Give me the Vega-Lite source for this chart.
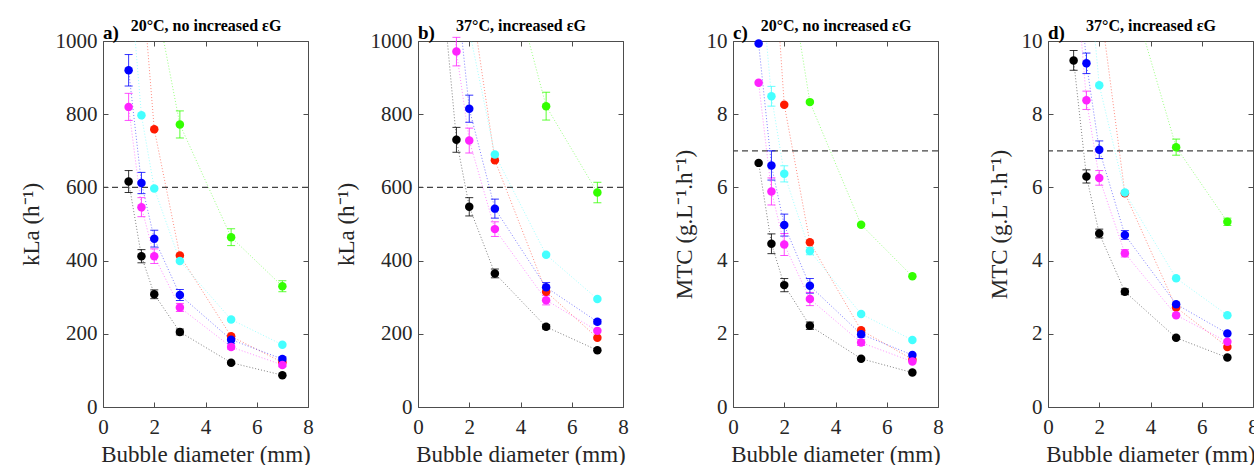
{
  "$schema": "https://vega.github.io/schema/vega-lite/v6.json",
  "background": "white",
  "padding": {"left": 20, "top": 17, "right": 0, "bottom": 0},
  "autosize": {"type": "pad"},
  "bounds": "flush",
  "spacing": 110,
  "config": {
    "font": "Liberation Serif",
    "view": {"stroke": null},
    "range": {"category": ["#000000", "#0000ff", "#44ffff", "#33ff00", "#ff22ff", "#ff1a00"]},
    "axis": {
      "grid": false,
      "labelFont": "Liberation Serif",
      "labelFontSize": 21,
      "labelColor": "#262626",
      "titleFont": "Liberation Serif",
      "titleFontSize": 23,
      "titleFontWeight": "normal",
      "titleColor": "#262626",
      "domainColor": "#4d4d4d",
      "tickColor": "#4d4d4d",
      "tickSize": -5,
      "labelFlush": false,
      "labelOverlap": false
    },
    "title": {"font": "Liberation Serif", "fontSize": 19, "fontWeight": "bold", "color": "#000000", "anchor": "start", "frame": "group", "baseline": "alphabetic", "offset": -25}
  },
  "datasets": {
    "refs": [
      {"p": "a", "ref": 600}, {"p": "b", "ref": 600}, {"p": "c", "ref": 7}, {"p": "d", "ref": 7}
    ],
    "pts": [
      {"p": "a", "s": "red", "d": 1.5, "v": 1190, "e": 0},
      {"p": "a", "s": "red", "d": 2, "v": 759, "e": 0},
      {"p": "a", "s": "red", "d": 3, "v": 414, "e": 0},
      {"p": "a", "s": "red", "d": 5, "v": 193, "e": 0},
      {"p": "a", "s": "red", "d": 7, "v": 122, "e": 0},
      {"p": "a", "s": "green", "d": 2, "v": 1134, "e": 0},
      {"p": "a", "s": "green", "d": 3, "v": 772, "e": 37},
      {"p": "a", "s": "green", "d": 5, "v": 464, "e": 23},
      {"p": "a", "s": "green", "d": 7, "v": 330, "e": 15},
      {"p": "a", "s": "cyan", "d": 1, "v": 1220, "e": 0},
      {"p": "a", "s": "cyan", "d": 1.5, "v": 797, "e": 0},
      {"p": "a", "s": "cyan", "d": 2, "v": 597, "e": 0},
      {"p": "a", "s": "cyan", "d": 3, "v": 399, "e": 0},
      {"p": "a", "s": "cyan", "d": 5, "v": 239, "e": 0},
      {"p": "a", "s": "cyan", "d": 7, "v": 170, "e": 0},
      {"p": "a", "s": "black", "d": 1, "v": 616, "e": 30},
      {"p": "a", "s": "black", "d": 1.5, "v": 412, "e": 18},
      {"p": "a", "s": "black", "d": 2, "v": 308, "e": 12},
      {"p": "a", "s": "black", "d": 3, "v": 205, "e": 8},
      {"p": "a", "s": "black", "d": 5, "v": 121, "e": 0},
      {"p": "a", "s": "black", "d": 7, "v": 87, "e": 0},
      {"p": "a", "s": "blue", "d": 1, "v": 920, "e": 43},
      {"p": "a", "s": "blue", "d": 1.5, "v": 612, "e": 29},
      {"p": "a", "s": "blue", "d": 2, "v": 460, "e": 23},
      {"p": "a", "s": "blue", "d": 3, "v": 306, "e": 15},
      {"p": "a", "s": "blue", "d": 5, "v": 184, "e": 10},
      {"p": "a", "s": "blue", "d": 7, "v": 131, "e": 6},
      {"p": "a", "s": "magenta", "d": 1, "v": 820, "e": 37},
      {"p": "a", "s": "magenta", "d": 1.5, "v": 546, "e": 26},
      {"p": "a", "s": "magenta", "d": 2, "v": 412, "e": 20},
      {"p": "a", "s": "magenta", "d": 3, "v": 272, "e": 11},
      {"p": "a", "s": "magenta", "d": 5, "v": 164, "e": 6},
      {"p": "a", "s": "magenta", "d": 7, "v": 115, "e": 5},

      {"p": "b", "s": "red", "d": 2, "v": 1150, "e": 0},
      {"p": "b", "s": "red", "d": 3, "v": 674, "e": 0},
      {"p": "b", "s": "red", "d": 5, "v": 315, "e": 0},
      {"p": "b", "s": "red", "d": 7, "v": 189, "e": 0},
      {"p": "b", "s": "green", "d": 3, "v": 1350, "e": 0},
      {"p": "b", "s": "green", "d": 5, "v": 822, "e": 38},
      {"p": "b", "s": "green", "d": 7, "v": 586, "e": 28},
      {"p": "b", "s": "cyan", "d": 2, "v": 1030, "e": 0},
      {"p": "b", "s": "cyan", "d": 3, "v": 690, "e": 0},
      {"p": "b", "s": "cyan", "d": 5, "v": 416, "e": 0},
      {"p": "b", "s": "cyan", "d": 7, "v": 295, "e": 0},
      {"p": "b", "s": "black", "d": 1, "v": 1110, "e": 0},
      {"p": "b", "s": "black", "d": 1.5, "v": 730, "e": 34},
      {"p": "b", "s": "black", "d": 2, "v": 547, "e": 25},
      {"p": "b", "s": "black", "d": 3, "v": 365, "e": 12},
      {"p": "b", "s": "black", "d": 5, "v": 219, "e": 6},
      {"p": "b", "s": "black", "d": 7, "v": 155, "e": 0},
      {"p": "b", "s": "blue", "d": 1.5, "v": 1150, "e": 0},
      {"p": "b", "s": "blue", "d": 2, "v": 815, "e": 37},
      {"p": "b", "s": "blue", "d": 3, "v": 542, "e": 26},
      {"p": "b", "s": "blue", "d": 5, "v": 327, "e": 13},
      {"p": "b", "s": "blue", "d": 7, "v": 233, "e": 6},
      {"p": "b", "s": "magenta", "d": 1, "v": 1350, "e": 0},
      {"p": "b", "s": "magenta", "d": 1.5, "v": 971, "e": 39},
      {"p": "b", "s": "magenta", "d": 2, "v": 728, "e": 34},
      {"p": "b", "s": "magenta", "d": 3, "v": 486, "e": 20},
      {"p": "b", "s": "magenta", "d": 5, "v": 292, "e": 13},
      {"p": "b", "s": "magenta", "d": 7, "v": 208, "e": 0},

      {"p": "c", "s": "red", "d": 1.5, "v": 13.4, "e": 0},
      {"p": "c", "s": "red", "d": 2, "v": 8.26, "e": 0},
      {"p": "c", "s": "red", "d": 3, "v": 4.5, "e": 0},
      {"p": "c", "s": "red", "d": 5, "v": 2.1, "e": 0},
      {"p": "c", "s": "red", "d": 7, "v": 1.3, "e": 0},
      {"p": "c", "s": "green", "d": 2, "v": 12.7, "e": 0},
      {"p": "c", "s": "green", "d": 3, "v": 8.33, "e": 0},
      {"p": "c", "s": "green", "d": 5, "v": 4.98, "e": 0},
      {"p": "c", "s": "green", "d": 7, "v": 3.57, "e": 0},
      {"p": "c", "s": "cyan", "d": 1, "v": 12.4, "e": 0},
      {"p": "c", "s": "cyan", "d": 1.5, "v": 8.49, "e": 0.27},
      {"p": "c", "s": "cyan", "d": 2, "v": 6.37, "e": 0.22},
      {"p": "c", "s": "cyan", "d": 3, "v": 4.26, "e": 0.1},
      {"p": "c", "s": "cyan", "d": 5, "v": 2.54, "e": 0},
      {"p": "c", "s": "cyan", "d": 7, "v": 1.83, "e": 0},
      {"p": "c", "s": "black", "d": 1, "v": 6.67, "e": 0},
      {"p": "c", "s": "black", "d": 1.5, "v": 4.46, "e": 0.27},
      {"p": "c", "s": "black", "d": 2, "v": 3.33, "e": 0.18},
      {"p": "c", "s": "black", "d": 3, "v": 2.22, "e": 0.1},
      {"p": "c", "s": "black", "d": 5, "v": 1.32, "e": 0},
      {"p": "c", "s": "black", "d": 7, "v": 0.94, "e": 0},
      {"p": "c", "s": "blue", "d": 1, "v": 9.93, "e": 0},
      {"p": "c", "s": "blue", "d": 1.5, "v": 6.6, "e": 0.4},
      {"p": "c", "s": "blue", "d": 2, "v": 4.97, "e": 0.3},
      {"p": "c", "s": "blue", "d": 3, "v": 3.31, "e": 0.2},
      {"p": "c", "s": "blue", "d": 5, "v": 1.99, "e": 0.08},
      {"p": "c", "s": "blue", "d": 7, "v": 1.42, "e": 0},
      {"p": "c", "s": "magenta", "d": 1, "v": 8.86, "e": 0},
      {"p": "c", "s": "magenta", "d": 1.5, "v": 5.89, "e": 0.37},
      {"p": "c", "s": "magenta", "d": 2, "v": 4.44, "e": 0.3},
      {"p": "c", "s": "magenta", "d": 3, "v": 2.95, "e": 0.18},
      {"p": "c", "s": "magenta", "d": 5, "v": 1.76, "e": 0.08},
      {"p": "c", "s": "magenta", "d": 7, "v": 1.24, "e": 0},

      {"p": "d", "s": "red", "d": 2, "v": 11.2, "e": 0},
      {"p": "d", "s": "red", "d": 3, "v": 5.84, "e": 0},
      {"p": "d", "s": "red", "d": 5, "v": 2.72, "e": 0},
      {"p": "d", "s": "red", "d": 7, "v": 1.64, "e": 0},
      {"p": "d", "s": "green", "d": 3, "v": 11.9, "e": 0},
      {"p": "d", "s": "green", "d": 5, "v": 7.1, "e": 0.22},
      {"p": "d", "s": "green", "d": 7, "v": 5.06, "e": 0.1},
      {"p": "d", "s": "cyan", "d": 1.5, "v": 12.6, "e": 0},
      {"p": "d", "s": "cyan", "d": 2, "v": 8.79, "e": 0},
      {"p": "d", "s": "cyan", "d": 3, "v": 5.86, "e": 0},
      {"p": "d", "s": "cyan", "d": 5, "v": 3.52, "e": 0},
      {"p": "d", "s": "cyan", "d": 7, "v": 2.51, "e": 0},
      {"p": "d", "s": "black", "d": 1, "v": 9.47, "e": 0.27},
      {"p": "d", "s": "black", "d": 1.5, "v": 6.3, "e": 0.18},
      {"p": "d", "s": "black", "d": 2, "v": 4.74, "e": 0.12},
      {"p": "d", "s": "black", "d": 3, "v": 3.15, "e": 0.08},
      {"p": "d", "s": "black", "d": 5, "v": 1.89, "e": 0},
      {"p": "d", "s": "black", "d": 7, "v": 1.35, "e": 0},
      {"p": "d", "s": "blue", "d": 1, "v": 13.7, "e": 0},
      {"p": "d", "s": "blue", "d": 1.5, "v": 9.39, "e": 0.28},
      {"p": "d", "s": "blue", "d": 2, "v": 7.03, "e": 0.24},
      {"p": "d", "s": "blue", "d": 3, "v": 4.7, "e": 0.12},
      {"p": "d", "s": "blue", "d": 5, "v": 2.81, "e": 0},
      {"p": "d", "s": "blue", "d": 7, "v": 2.01, "e": 0},
      {"p": "d", "s": "magenta", "d": 1, "v": 12.6, "e": 0},
      {"p": "d", "s": "magenta", "d": 1.5, "v": 8.38, "e": 0.25},
      {"p": "d", "s": "magenta", "d": 2, "v": 6.26, "e": 0.2},
      {"p": "d", "s": "magenta", "d": 3, "v": 4.2, "e": 0.1},
      {"p": "d", "s": "magenta", "d": 5, "v": 2.51, "e": 0},
      {"p": "d", "s": "magenta", "d": 7, "v": 1.78, "e": 0}
    ]
  },
  "hconcat": [
    {
      "width": 205, "height": 366,
      "title": {"text": "a)"},
      "data": {"name": "pts"},
      "transform": [{"filter": "datum.p === 'a'"}],
      "resolve": {"axis": {"x": "independent", "y": "independent"}},
      "layer": [
        {"data": {"name": "refs"}, "transform": [{"filter": "datum.p === 'a'"}],
         "mark": {"type": "rule", "strokeDash": [6, 4], "color": "#444444", "strokeWidth": 1.2},
         "encoding": {"y": {"field": "ref", "type": "quantitative", "scale": {"domain": [0, 1000], "nice": false}, "axis": null}}},
        {"mark": {"type": "line", "clip": true, "strokeWidth": 1, "strokeDash": [1, 2], "opacity": 0.5},
         "encoding": {
           "x": {"field": "d", "type": "quantitative", "scale": {"domain": [0, 8], "nice": false}, "axis": null},
           "y": {"field": "v", "type": "quantitative", "scale": {"domain": [0, 1000], "nice": false}, "axis": null},
           "color": {"field": "s", "type": "nominal", "legend": null}}},
        {"transform": [{"filter": "datum.e > 0"}],
         "mark": {"type": "errorbar", "ticks": true, "size": 8, "thickness": 1, "opacity": 0.8},
         "encoding": {
           "x": {"field": "d", "type": "quantitative", "scale": {"domain": [0, 8], "nice": false}, "axis": null},
           "y": {"field": "v", "type": "quantitative", "scale": {"domain": [0, 1000], "nice": false}, "axis": null},
           "yError": {"field": "e"},
           "color": {"field": "s", "type": "nominal", "legend": null}}},
        {"transform": [{"filter": "datum.v <= 1000"}],
         "mark": {"type": "circle", "size": 72, "opacity": 1},
         "encoding": {
           "x": {"field": "d", "type": "quantitative", "scale": {"domain": [0, 8], "nice": false},
                 "axis": {"values": [0, 2, 4, 6, 8], "title": "Bubble diameter (mm)", "labelPadding": 14, "titlePadding": 6}},
           "y": {"field": "v", "type": "quantitative", "scale": {"domain": [0, 1000], "nice": false},
                 "axis": {"values": [0, 200, 400, 600, 800, 1000], "format": "d", "title": "kLa (h⁻¹)", "labelPadding": 11, "titlePadding": 12}},
           "color": {"field": "s", "type": "nominal", "legend": null}}},
        {"transform": [{"filter": "datum.v <= 1000"}],
         "mark": {"type": "point", "opacity": 0},
         "encoding": {
           "x": {"field": "d", "type": "quantitative", "scale": {"domain": [0, 8], "nice": false},
                 "axis": {"orient": "top", "values": [0, 2, 4, 6, 8], "labels": false, "title": "20°C, no increased εG", "titleFontSize": 16, "titleFontWeight": "bold", "titleColor": "#000000", "titlePadding": 7}},
           "y": {"field": "v", "type": "quantitative", "scale": {"domain": [0, 1000], "nice": false},
                 "axis": {"orient": "right", "values": [0, 200, 400, 600, 800, 1000], "labels": false, "title": null}}}}
      ]
    },
    {
      "width": 205, "height": 366,
      "title": {"text": "b)"},
      "data": {"name": "pts"},
      "transform": [{"filter": "datum.p === 'b'"}],
      "resolve": {"axis": {"x": "independent", "y": "independent"}},
      "layer": [
        {"data": {"name": "refs"}, "transform": [{"filter": "datum.p === 'b'"}],
         "mark": {"type": "rule", "strokeDash": [6, 4], "color": "#444444", "strokeWidth": 1.2},
         "encoding": {"y": {"field": "ref", "type": "quantitative", "scale": {"domain": [0, 1000], "nice": false}, "axis": null}}},
        {"mark": {"type": "line", "clip": true, "strokeWidth": 1, "strokeDash": [1, 2], "opacity": 0.5},
         "encoding": {
           "x": {"field": "d", "type": "quantitative", "scale": {"domain": [0, 8], "nice": false}, "axis": null},
           "y": {"field": "v", "type": "quantitative", "scale": {"domain": [0, 1000], "nice": false}, "axis": null},
           "color": {"field": "s", "type": "nominal", "legend": null}}},
        {"transform": [{"filter": "datum.e > 0"}],
         "mark": {"type": "errorbar", "ticks": true, "size": 8, "thickness": 1, "opacity": 0.8},
         "encoding": {
           "x": {"field": "d", "type": "quantitative", "scale": {"domain": [0, 8], "nice": false}, "axis": null},
           "y": {"field": "v", "type": "quantitative", "scale": {"domain": [0, 1000], "nice": false}, "axis": null},
           "yError": {"field": "e"},
           "color": {"field": "s", "type": "nominal", "legend": null}}},
        {"transform": [{"filter": "datum.v <= 1000"}],
         "mark": {"type": "circle", "size": 72, "opacity": 1},
         "encoding": {
           "x": {"field": "d", "type": "quantitative", "scale": {"domain": [0, 8], "nice": false},
                 "axis": {"values": [0, 2, 4, 6, 8], "title": "Bubble diameter (mm)", "labelPadding": 14, "titlePadding": 6}},
           "y": {"field": "v", "type": "quantitative", "scale": {"domain": [0, 1000], "nice": false},
                 "axis": {"values": [0, 200, 400, 600, 800, 1000], "format": "d", "title": "kLa (h⁻¹)", "labelPadding": 11, "titlePadding": 12}},
           "color": {"field": "s", "type": "nominal", "legend": null}}},
        {"transform": [{"filter": "datum.v <= 1000"}],
         "mark": {"type": "point", "opacity": 0},
         "encoding": {
           "x": {"field": "d", "type": "quantitative", "scale": {"domain": [0, 8], "nice": false},
                 "axis": {"orient": "top", "values": [0, 2, 4, 6, 8], "labels": false, "title": "37°C, increased εG", "titleFontSize": 16, "titleFontWeight": "bold", "titleColor": "#000000", "titlePadding": 7}},
           "y": {"field": "v", "type": "quantitative", "scale": {"domain": [0, 1000], "nice": false},
                 "axis": {"orient": "right", "values": [0, 200, 400, 600, 800, 1000], "labels": false, "title": null}}}}
      ]
    },
    {
      "width": 205, "height": 366,
      "title": {"text": "c)"},
      "data": {"name": "pts"},
      "transform": [{"filter": "datum.p === 'c'"}],
      "resolve": {"axis": {"x": "independent", "y": "independent"}},
      "layer": [
        {"data": {"name": "refs"}, "transform": [{"filter": "datum.p === 'c'"}],
         "mark": {"type": "rule", "strokeDash": [6, 4], "color": "#444444", "strokeWidth": 1.2},
         "encoding": {"y": {"field": "ref", "type": "quantitative", "scale": {"domain": [0, 10], "nice": false}, "axis": null}}},
        {"mark": {"type": "line", "clip": true, "strokeWidth": 1, "strokeDash": [1, 2], "opacity": 0.5},
         "encoding": {
           "x": {"field": "d", "type": "quantitative", "scale": {"domain": [0, 8], "nice": false}, "axis": null},
           "y": {"field": "v", "type": "quantitative", "scale": {"domain": [0, 10], "nice": false}, "axis": null},
           "color": {"field": "s", "type": "nominal", "legend": null}}},
        {"transform": [{"filter": "datum.e > 0"}],
         "mark": {"type": "errorbar", "ticks": true, "size": 8, "thickness": 1, "opacity": 0.8},
         "encoding": {
           "x": {"field": "d", "type": "quantitative", "scale": {"domain": [0, 8], "nice": false}, "axis": null},
           "y": {"field": "v", "type": "quantitative", "scale": {"domain": [0, 10], "nice": false}, "axis": null},
           "yError": {"field": "e"},
           "color": {"field": "s", "type": "nominal", "legend": null}}},
        {"transform": [{"filter": "datum.v <= 10"}],
         "mark": {"type": "circle", "size": 72, "opacity": 1},
         "encoding": {
           "x": {"field": "d", "type": "quantitative", "scale": {"domain": [0, 8], "nice": false},
                 "axis": {"values": [0, 2, 4, 6, 8], "title": "Bubble diameter (mm)", "labelPadding": 14, "titlePadding": 6}},
           "y": {"field": "v", "type": "quantitative", "scale": {"domain": [0, 10], "nice": false},
                 "axis": {"values": [0, 2, 4, 6, 8, 10], "title": "MTC (g.L⁻¹.h⁻¹)", "labelPadding": 11, "titlePadding": 10}},
           "color": {"field": "s", "type": "nominal", "legend": null}}},
        {"transform": [{"filter": "datum.v <= 10"}],
         "mark": {"type": "point", "opacity": 0},
         "encoding": {
           "x": {"field": "d", "type": "quantitative", "scale": {"domain": [0, 8], "nice": false},
                 "axis": {"orient": "top", "values": [0, 2, 4, 6, 8], "labels": false, "title": "20°C, no increased εG", "titleFontSize": 16, "titleFontWeight": "bold", "titleColor": "#000000", "titlePadding": 7}},
           "y": {"field": "v", "type": "quantitative", "scale": {"domain": [0, 10], "nice": false},
                 "axis": {"orient": "right", "values": [0, 2, 4, 6, 8, 10], "labels": false, "title": null}}}}
      ]
    },
    {
      "width": 205, "height": 366,
      "title": {"text": "d)"},
      "data": {"name": "pts"},
      "transform": [{"filter": "datum.p === 'd'"}],
      "resolve": {"axis": {"x": "independent", "y": "independent"}},
      "layer": [
        {"data": {"name": "refs"}, "transform": [{"filter": "datum.p === 'd'"}],
         "mark": {"type": "rule", "strokeDash": [6, 4], "color": "#444444", "strokeWidth": 1.2},
         "encoding": {"y": {"field": "ref", "type": "quantitative", "scale": {"domain": [0, 10], "nice": false}, "axis": null}}},
        {"mark": {"type": "line", "clip": true, "strokeWidth": 1, "strokeDash": [1, 2], "opacity": 0.5},
         "encoding": {
           "x": {"field": "d", "type": "quantitative", "scale": {"domain": [0, 8], "nice": false}, "axis": null},
           "y": {"field": "v", "type": "quantitative", "scale": {"domain": [0, 10], "nice": false}, "axis": null},
           "color": {"field": "s", "type": "nominal", "legend": null}}},
        {"transform": [{"filter": "datum.e > 0"}],
         "mark": {"type": "errorbar", "ticks": true, "size": 8, "thickness": 1, "opacity": 0.8},
         "encoding": {
           "x": {"field": "d", "type": "quantitative", "scale": {"domain": [0, 8], "nice": false}, "axis": null},
           "y": {"field": "v", "type": "quantitative", "scale": {"domain": [0, 10], "nice": false}, "axis": null},
           "yError": {"field": "e"},
           "color": {"field": "s", "type": "nominal", "legend": null}}},
        {"transform": [{"filter": "datum.v <= 10"}],
         "mark": {"type": "circle", "size": 72, "opacity": 1},
         "encoding": {
           "x": {"field": "d", "type": "quantitative", "scale": {"domain": [0, 8], "nice": false},
                 "axis": {"values": [0, 2, 4, 6, 8], "title": "Bubble diameter (mm)", "labelPadding": 14, "titlePadding": 6}},
           "y": {"field": "v", "type": "quantitative", "scale": {"domain": [0, 10], "nice": false},
                 "axis": {"values": [0, 2, 4, 6, 8, 10], "title": "MTC (g.L⁻¹.h⁻¹)", "labelPadding": 11, "titlePadding": 10}},
           "color": {"field": "s", "type": "nominal", "legend": null}}},
        {"transform": [{"filter": "datum.v <= 10"}],
         "mark": {"type": "point", "opacity": 0},
         "encoding": {
           "x": {"field": "d", "type": "quantitative", "scale": {"domain": [0, 8], "nice": false},
                 "axis": {"orient": "top", "values": [0, 2, 4, 6, 8], "labels": false, "title": "37°C, increased εG", "titleFontSize": 16, "titleFontWeight": "bold", "titleColor": "#000000", "titlePadding": 7}},
           "y": {"field": "v", "type": "quantitative", "scale": {"domain": [0, 10], "nice": false},
                 "axis": {"orient": "right", "values": [0, 2, 4, 6, 8, 10], "labels": false, "title": null}}}}
      ]
    }
  ]
}
